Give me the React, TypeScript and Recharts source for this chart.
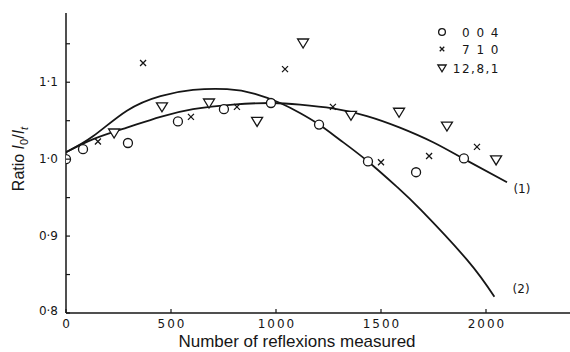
import React from 'react'
import { ComposedChart, Line, Scatter, XAxis, YAxis, ReferenceDot } from 'recharts'

// fitted curves (1) and (2)
const curve1X = [0, 130, 290, 450, 605, 795, 980, 1114, 1271, 1433, 1590, 1748, 1890, 2100]
const curve1Y = [1.009, 1.026, 1.041, 1.055, 1.065, 1.071, 1.073, 1.071, 1.066, 1.056, 1.041, 1.022, 1.001, 0.970]
const curve2X = [0, 130, 290, 450, 605, 767, 900, 1020, 1114, 1205, 1305, 1438, 1576, 1690, 1910, 2040]
const curve2Y = [1.009, 1.030, 1.063, 1.082, 1.090, 1.091, 1.085, 1.073, 1.060, 1.045, 1.025, 0.997, 0.964, 0.934, 0.869, 0.821]

// measured points
const r004X = [0, 81, 295, 533, 752, 976, 1205, 1438, 1667, 1895]
const r004Y = [1.0, 1.013, 1.021, 1.049, 1.065, 1.073, 1.045, 0.997, 0.983, 1.001]
const r710X = [152, 367, 595, 814, 1043, 1271, 1500, 1729, 1957]
const r710Y = [1.023, 1.125, 1.055, 1.068, 1.117, 1.068, 0.996, 1.004, 1.016]
const r1281X = [229, 457, 681, 910, 1129, 1357, 1586, 1814, 2048]
const r1281Y = [1.034, 1.068, 1.073, 1.049, 1.151, 1.057, 1.061, 1.043, 0.999]

const xTicks = [0, 500, 1000, 1500, 2000]
const yTicks = [0.8, 0.85, 0.9, 0.95, 1.0, 1.05, 1.1, 1.15]
const yTickLabels: Record<string, string> = { '0.8': '0·8', '0.9': '0·9', '1': '1·0', '1.1': '1·1' }

const zip = (xs: number[], ys: number[]) => xs.map((x, i) => ({ x, y: ys[i] }))
const curve1 = zip(curve1X, curve1Y)
const curve2 = zip(curve2X, curve2Y)
const d004 = zip(r004X, r004Y)
const d710 = zip(r710X, r710Y)
const d1281 = zip(r1281X, r1281Y)

const INK = '#161616'
const NUM_FONT = '"DejaVu Sans", sans-serif'
const TXT_FONT = '"Liberation Sans", Arial, sans-serif'

const CircleMark = (p: any) => (
  <circle cx={p.cx} cy={p.cy} r={4.5 * (p.k ?? 1)} fill="#fff" stroke={INK} strokeWidth={1.3} />
)
const CrossMark = (p: any) => {
  const s = 3 * (p.k ?? 1)
  return (
    <path
      d={`M${p.cx - s},${p.cy - s}L${p.cx + s},${p.cy + s}M${p.cx + s},${p.cy - s}L${p.cx - s},${p.cy + s}`}
      stroke={INK}
      strokeWidth={1.3}
      fill="none"
    />
  )
}
const TriMark = (p: any) => {
  const k = p.k ?? 1
  return (
    <path
      d={`M${p.cx - 5.5 * k},${p.cy - 4 * k}L${p.cx + 5.5 * k},${p.cy - 4 * k}L${p.cx},${p.cy + 5 * k}Z`}
      stroke={INK}
      strokeWidth={1.3}
      fill="#fff"
    />
  )
}

function YTick({ x, y, payload }: any) {
  const label = yTickLabels[String(payload.value)]
  return (
    <g>
      <line x1={x} x2={x + 4} y1={y} y2={y} stroke={INK} strokeWidth={1.2} />
      {label && (
        <text x={x - 8} y={y + (payload.value === 0.8 ? 2 : 4)} textAnchor="end" fontSize={12} fontFamily={NUM_FONT} fill={INK}>
          {label}
        </text>
      )}
    </g>
  )
}

function XTick({ x, y, payload }: any) {
  return (
    <g>
      <line x1={x} x2={x} y1={y} y2={y - 4} stroke={INK} strokeWidth={1.2} />
      <text x={x + 1} y={y + 15} textAnchor="middle" fontSize={12} letterSpacing={2} fontFamily={NUM_FONT} fill={INK}>
        {payload.value}
      </text>
    </g>
  )
}

const legendRows = [
  { label: '0 0 4', Mark: CircleMark },
  { label: '7 1 0', Mark: CrossMark },
  { label: '12,8,1', Mark: TriMark },
]

function LegendBox() {
  return (
    <svg width={80} height={60} style={{ position: 'absolute', left: 434, top: 22 }}>
      {legendRows.map((r, i) => {
        const cy = [10, 27, 46][i]
        return (
          <g key={r.label}>
            <r.Mark cx={8} cy={cy} k={0.75} />
            <text x={66} y={cy + 4.5} textAnchor="end" fontSize={12} letterSpacing={1.5} fontFamily={NUM_FONT} fill={INK}>
              {r.label}
            </text>
          </g>
        )
      })}
    </svg>
  )
}

function YLabel({ viewBox }: any) {
  const cx = viewBox.x + 24
  const cy = viewBox.y + viewBox.height / 2 - 4
  return (
    <text x={cx} y={cy} transform={`rotate(-90, ${cx}, ${cy})`} textAnchor="middle" fontSize={16} fontFamily={TXT_FONT} fill={INK}>
      Ratio <tspan fontStyle="italic">I</tspan>
      <tspan fontSize={11} dy={4}>0</tspan>
      <tspan dy={-4}>/</tspan>
      <tspan fontStyle="italic">I</tspan>
      <tspan fontSize={11} fontStyle="italic" dy={4}>t</tspan>
    </text>
  )
}

function XLabel({ viewBox }: any) {
  return (
    <text x={viewBox.x + 231} y={viewBox.y + 34} textAnchor="middle" fontSize={17} fontFamily={TXT_FONT} fill={INK}>
      Number of reflexions measured
    </text>
  )
}

export default function App() {
  return (
    <div style={{ position: 'absolute', left: 0, top: 0, width: 570, height: 352, background: '#fff' }}>
      <ComposedChart width={570} height={352} margin={{ top: 13, right: 0, bottom: 0, left: 0 }}>
        <XAxis
          type="number"
          dataKey="x"
          domain={[0, 2400]}
          allowDataOverflow
          ticks={xTicks}
          tick={<XTick />}
          tickLine={false}
          tickSize={0}
          tickMargin={0}
          height={39}
          axisLine={{ stroke: INK, strokeWidth: 1.5 }}
          label={<XLabel />}
        />
        <YAxis
          type="number"
          dataKey="y"
          domain={[0.8, 1.19]}
          allowDataOverflow
          ticks={yTicks}
          tick={<YTick />}
          tickLine={false}
          tickSize={0}
          tickMargin={0}
          width={66}
          axisLine={{ stroke: INK, strokeWidth: 1.5 }}
          label={<YLabel />}
        />
        <Line data={curve1} dataKey="y" type="natural" stroke={INK} strokeWidth={1.8} dot={false} isAnimationActive={false} />
        <Line data={curve2} dataKey="y" type="natural" stroke={INK} strokeWidth={1.8} dot={false} isAnimationActive={false} />
        <Scatter data={d004} dataKey="y" shape={<CircleMark />} isAnimationActive={false} />
        <Scatter data={d710} dataKey="y" shape={<CrossMark />} isAnimationActive={false} />
        <Scatter data={d1281} dataKey="y" shape={<TriMark />} isAnimationActive={false} />
        <ReferenceDot x={2171} y={0.962} r={0} fill="none" stroke="none" ifOverflow="visible"
          label={{ value: '(1)', position: 'center', fill: INK, fontSize: 12, fontFamily: NUM_FONT }} />
        <ReferenceDot x={2167} y={0.832} r={0} fill="none" stroke="none" ifOverflow="visible"
          label={{ value: '(2)', position: 'center', fill: INK, fontSize: 12, fontFamily: NUM_FONT }} />
      </ComposedChart>
      <LegendBox />
    </div>
  )
}
